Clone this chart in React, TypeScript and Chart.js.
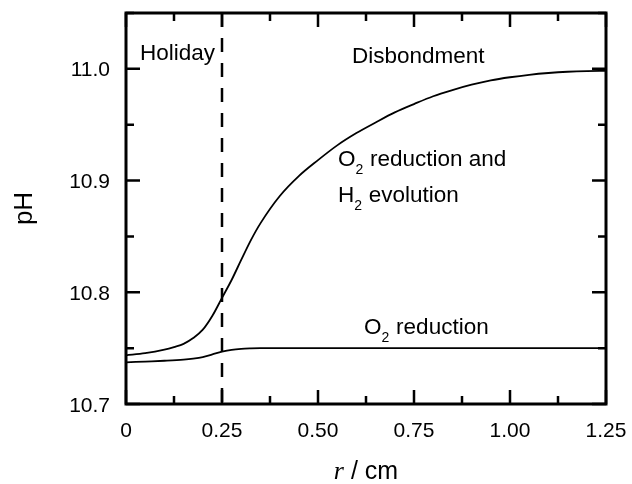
import React, { useEffect, useRef } from "react";
import { Chart, registerables } from "chart.js";

Chart.register(...registerables);

// ---- data ----
const rWithH2 = [0, 0.05, 0.1, 0.125, 0.15, 0.175, 0.2, 0.225, 0.25, 0.275, 0.3, 0.325, 0.35, 0.4, 0.45, 0.5, 0.55, 0.6, 0.65, 0.7, 0.75, 0.8, 0.85, 0.9, 0.95, 1.0, 1.05, 1.1, 1.15, 1.2, 1.25];
const pHWithH2 = [10.7436, 10.7455, 10.7487, 10.751, 10.7538, 10.759, 10.7665, 10.779, 10.795, 10.811, 10.829, 10.8465, 10.8617, 10.886, 10.904, 10.9183, 10.9315, 10.9425, 10.952, 10.961, 10.9685, 10.9755, 10.981, 10.9858, 10.9897, 10.9925, 10.9947, 10.9963, 10.9974, 10.998, 10.9982];

const rO2 = [0, 0.05, 0.1, 0.15, 0.175, 0.2, 0.225, 0.25, 0.275, 0.3, 0.325, 0.35, 0.4, 0.5, 0.75, 1.0, 1.25];
const pHO2 = [10.7373, 10.738, 10.7387, 10.7397, 10.7406, 10.742, 10.7444, 10.7468, 10.7485, 10.7494, 10.7498, 10.75, 10.75, 10.75, 10.75, 10.75, 10.75];

const holidayEdge = 0.25;

const xTicks = [0, 0.25, 0.5, 0.75, 1.0, 1.25];
const xTickLabels = ["0", "0.25", "0.50", "0.75", "1.00", "1.25"];
const xMinorTicks = [0.125, 0.375, 0.625, 0.875, 1.125];
const yTicks = [10.7, 10.8, 10.9, 11.0];
const yTickLabels = ["10.7", "10.8", "10.9", "11.0"];
const yMinorTicks = [10.75, 10.85, 10.95, 11.05];

const xMin = 0, xMax = 1.25, yMin = 10.7, yMax = 11.05;

// annotation texts: [text, isSubscript] segments, placed in data coordinates
const annotations = [
  { parts: [["Holiday", false]], r: 0.0365, pH: 11.0078 },
  { parts: [["Disbondment", false]], r: 0.5885, pH: 11.005 },
  { parts: [["O", false], ["2", true], [" reduction and", false]], r: 0.552, pH: 10.913 },
  { parts: [["H", false], ["2", true], [" evolution", false]], r: 0.552, pH: 10.8807 },
  { parts: [["O", false], ["2", true], [" reduction", false]], r: 0.62, pH: 10.7626 },
];

const SANS = "'Liberation Sans', Arial, sans-serif";
const SERIF = "'Liberation Serif', 'Times New Roman', serif";

const overlay = {
  id: "overlay",
  afterDatasetsDraw(chart: any) {
    const { ctx, chartArea: a } = chart;
    const xs = chart.scales.x;
    const ys = chart.scales.y;
    ctx.save();
    ctx.strokeStyle = "#000";
    ctx.lineCap = "butt";
    ctx.lineWidth = 2.5;
    const major = 14, minor = 8;
    const vt = (v: number, len: number) => {
      const p = xs.getPixelForValue(v);
      ctx.beginPath();
      ctx.moveTo(p, a.bottom);
      ctx.lineTo(p, a.bottom - len);
      ctx.moveTo(p, a.top);
      ctx.lineTo(p, a.top + len);
      ctx.stroke();
    };
    const ht = (v: number, len: number) => {
      const p = ys.getPixelForValue(v);
      ctx.beginPath();
      ctx.moveTo(a.left, p);
      ctx.lineTo(a.left + len, p);
      ctx.moveTo(a.right, p);
      ctx.lineTo(a.right - len, p);
      ctx.stroke();
    };
    xTicks.forEach((v) => vt(v, major));
    xMinorTicks.forEach((v) => vt(v, minor));
    yTicks.forEach((v) => ht(v, major));
    yMinorTicks.forEach((v) => ht(v, minor));
    ctx.lineWidth = 3;
    ctx.strokeRect(a.left, a.top, a.right - a.left, a.bottom - a.top);
    ctx.restore();
  },
  afterDraw(chart: any) {
    const { ctx, chartArea: a } = chart;
    const xs = chart.scales.x;
    const ys = chart.scales.y;
    ctx.save();
    ctx.fillStyle = "#000";
    ctx.textBaseline = "alphabetic";

    // tick labels
    ctx.font = `21px ${SANS}`;
    ctx.textAlign = "center";
    xTicks.forEach((v, i) => {
      ctx.fillText(xTickLabels[i], xs.getPixelForValue(v), a.bottom + 33);
    });
    ctx.textAlign = "right";
    yTicks.forEach((v, i) => {
      ctx.fillText(yTickLabels[i], a.left - 16, ys.getPixelForValue(v) + 7.5);
    });

    // annotations
    ctx.textAlign = "left";
    const mainFont = `22.5px ${SANS}`;
    const subFont = `14px ${SANS}`;
    annotations.forEach((an) => {
      let x = xs.getPixelForValue(an.r);
      const y = ys.getPixelForValue(an.pH);
      an.parts.forEach(([t, sub]) => {
        ctx.font = sub ? subFont : mainFont;
        ctx.fillText(t as string, x, sub ? y + 8 : y);
        x += ctx.measureText(t as string).width + (sub ? 0.5 : 0);
      });
    });

    // x title
    const cx = (a.left + a.right) / 2;
    ctx.font = `italic 26px ${SERIF}`;
    const w1 = ctx.measureText("r").width;
    ctx.font = `25px ${SANS}`;
    const w2 = ctx.measureText(" / cm").width;
    const tx = cx - (w1 + w2) / 2;
    ctx.font = `italic 26px ${SERIF}`;
    ctx.fillText("r", tx, 479);
    ctx.font = `25px ${SANS}`;
    ctx.fillText(" / cm", tx + w1, 479);

    // y title
    ctx.translate(32, (a.top + a.bottom) / 2);
    ctx.rotate(-Math.PI / 2);
    ctx.textAlign = "center";
    ctx.font = `26px ${SANS}`;
    ctx.fillText("pH", 0, 0);
    ctx.restore();
  },
};

export default function App() {
  const ref = useRef<HTMLCanvasElement | null>(null);
  useEffect(() => {
    document.body.style.margin = "0";
    const canvas = ref.current!;
    const chart = new Chart(canvas, {
      type: "line",
      data: {
        datasets: [
          {
            data: rWithH2.map((r, i) => ({ x: r, y: pHWithH2[i] })),
            borderColor: "#000",
            borderWidth: 1.8,
            pointRadius: 0,
            cubicInterpolationMode: "monotone",
            fill: false,
          },
          {
            data: rO2.map((r, i) => ({ x: r, y: pHO2[i] })),
            borderColor: "#000",
            borderWidth: 1.8,
            pointRadius: 0,
            cubicInterpolationMode: "monotone",
            fill: false,
          },
          {
            data: [
              { x: holidayEdge, y: yMax },
              { x: holidayEdge, y: yMin },
            ],
            borderColor: "#000",
            borderWidth: 2.5,
            borderDash: [14, 11],
            pointRadius: 0,
            fill: false,
          },
        ],
      },
      options: {
        animation: false,
        responsive: false,
        maintainAspectRatio: false,
        layout: { padding: { top: 13, right: 26, left: 126, bottom: 80 } },
        plugins: { legend: { display: false }, tooltip: { enabled: false }, title: { display: false } },
        scales: {
          x: { type: "linear", min: xMin, max: xMax, display: false },
          y: { type: "linear", min: yMin, max: yMax, display: false },
        },
      },
      plugins: [overlay],
    } as any);
    return () => chart.destroy();
  }, []);
  return (
    <div style={{ width: 632, height: 484 }}>
      <canvas ref={ref} width={632} height={484} style={{ width: 632, height: 484, display: "block" }} />
    </div>
  );
}
